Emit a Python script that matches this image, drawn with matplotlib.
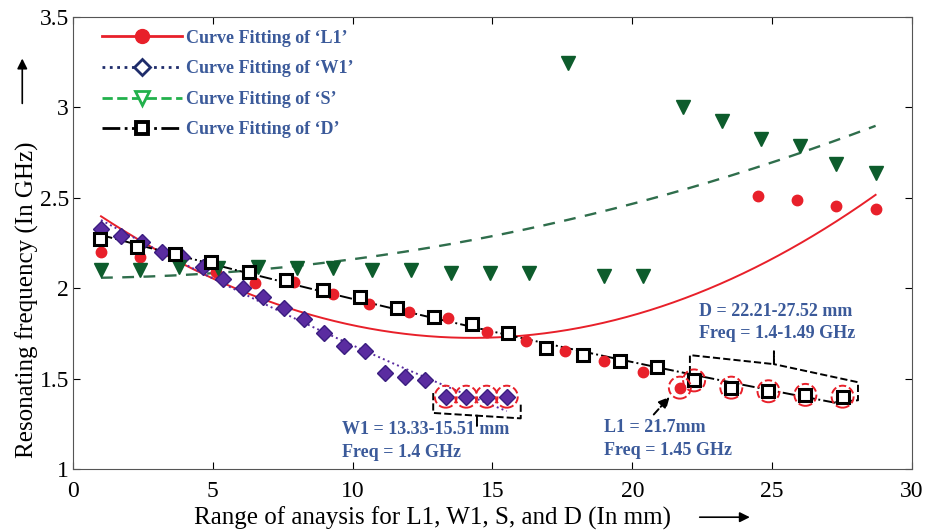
import numpy as np
import matplotlib
matplotlib.use('Agg')
import matplotlib.pyplot as plt
from matplotlib.lines import Line2D
from matplotlib.patches import FancyArrowPatch

plt.rcParams['font.family'] = ['Liberation Serif', 'DejaVu Serif']

# L1 sweep (mm) and resonating frequency (GHz)
l1_x = [1.0, 2.4, 5.1, 6.5, 7.9, 9.3, 10.6, 12.0, 13.4, 14.8, 16.2, 17.6, 19.0, 20.4, 21.7,
        24.5, 25.9, 27.3, 28.7]
l1_f = [2.20, 2.17, 2.09, 2.03, 2.035, 1.97, 1.91, 1.87, 1.835, 1.76, 1.71, 1.65, 1.60, 1.535, 1.45,
        2.51, 2.49, 2.455, 2.44]

# W1 sweep
w1_x = [1.0, 1.73, 2.45, 3.18, 3.9, 4.63, 5.35, 6.08, 6.8, 7.53, 8.26, 8.98, 9.7, 10.43,
        11.15, 11.88, 12.6, 13.33, 14.06, 14.79, 15.51]
w1_f = [2.33, 2.29, 2.255, 2.20, 2.17, 2.12, 2.05, 2.00, 1.95, 1.89, 1.83, 1.75, 1.68, 1.65,
        1.53, 1.51, 1.49, 1.40, 1.40, 1.40, 1.40]

# S sweep
s_x = [1.0, 2.4, 3.8, 5.2, 6.6, 8.0, 9.3, 10.7, 12.1, 13.5, 14.9, 16.3, 17.7, 19.0, 20.4,
       21.8, 23.2, 24.6, 26.0, 27.3, 28.7]
s_f = [2.10, 2.10, 2.12, 2.11, 2.12, 2.11, 2.11, 2.10, 2.10, 2.085, 2.085, 2.085, 3.245, 2.07, 2.07,
       3.00, 2.925, 2.825, 2.785, 2.69, 2.64]

# D sweep
d_x = [0.97, 2.30, 3.63, 4.95, 6.28, 7.61, 8.94, 10.26, 11.59, 12.92, 14.25, 15.57, 16.9, 18.23,
       19.56, 20.88, 22.21, 23.54, 24.87, 26.19, 27.52]
d_f = [2.27, 2.23, 2.19, 2.145, 2.09, 2.045, 1.99, 1.95, 1.89, 1.84, 1.80, 1.75, 1.67, 1.63,
       1.60, 1.565, 1.49, 1.45, 1.43, 1.41, 1.40]

labels = ["Curve Fitting of \u2018L1\u2019", "Curve Fitting of \u2018W1\u2019",
          "Curve Fitting of \u2018S\u2019", "Curve Fitting of \u2018D\u2019"]

note_col = '#3b5a9a'
red = '#e8202a'
navy = '#1f2d6b'
purple = '#5a2ca0'
dgreen = '#0d5c2c'
lgreen = '#2f6e4c'

fig = plt.figure(figsize=(9.28, 5.31), dpi=100)
ax = fig.add_axes([0.0787, 0.1168, 0.904, 0.851])


def fit_line(x, y, deg):
    c = np.polyfit(x, y, deg)
    xx = np.linspace(min(x), max(x), 200)
    return xx, np.polyval(c, xx)


# fitted curves
xx, yy = fit_line(l1_x, l1_f, 2)
ax.plot(xx, yy, '-', color=red, lw=1.4, zorder=2)
xx, yy = fit_line(w1_x, w1_f, 2)
ax.plot(xx, yy, ':', color=purple, lw=1.4, zorder=2)
xx, yy = fit_line(s_x, s_f, 2)
ax.plot(xx, yy, '--', color=lgreen, lw=1.7, dashes=(5, 4), zorder=2)
xx, yy = fit_line(d_x, d_f, 2)
ax.plot(xx, yy, '-.', color='black', lw=1.4, zorder=2)

# data points
ax.plot(l1_x, l1_f, 'o', color=red, ms=7.5, mec=red, zorder=4)
ax.plot(w1_x, w1_f, 'D', color=purple, ms=8, mec='#3a1d80', mew=1.0, zorder=4)
ax.plot(s_x, s_f, 'v', color=dgreen, ms=10, mec=dgreen, zorder=4)
ax.plot(d_x, d_f, 's', mfc='white', mec='black', ms=9, mew=2.2, zorder=5)

# highlighted points
hl = [(w1_x[-4:], w1_f[-4:]), ([l1_x[14]], [l1_f[14]]), (d_x[-5:], d_f[-5:])]
for hx, hy in hl:
    ax.scatter(hx, hy, s=250, facecolors='none', edgecolors=red, linestyles='--',
               linewidths=1.4, zorder=6)

# brackets around the highlighted groups
wx0, wx1 = w1_x[-4] - 0.45, w1_x[-1] + 0.5
wm = (wx0 + wx1) / 2
ax.plot([wx0, wx0, wm, wm, wm, wx1, wx1], [1.42, 1.31, 1.295, 1.24, 1.295, 1.28, 1.37],
        '--', color='black', lw=1.4, zorder=3)
dx0, dx1 = d_x[-5] - 0.15, d_x[-1] + 0.55
dm = (dx0 + dx1) / 2
ax.plot([dx0, dx0, dm, dm, dm, dx1, dx1, d_x[-1] - 0.3],
        [1.53, 1.63, 1.58, 1.65, 1.58, 1.48, 1.38, 1.37],
        '--', color='black', lw=1.4, zorder=3)

# annotations
tkw = dict(color=note_col, fontsize=13, fontweight='bold', va='center', ha='left')
ax.text(9.62, 1.216, 'W1 = 13.33-15.51 mm', **tkw)
ax.text(9.62, 1.09, 'Freq = 1.4 GHz', **tkw)
ax.text(19.0, 1.23, 'L1 = 21.7mm', **tkw)
ax.text(19.0, 1.10, 'Freq = 1.45 GHz', **tkw)
ax.text(22.4, 1.87, 'D = 22.21-27.52 mm', **tkw)
ax.text(22.4, 1.75, 'Freq = 1.4-1.49 GHz', **tkw)
ax.annotate('', xy=(l1_x[14] - 0.3, l1_f[14] - 0.04), xytext=(20.7, 1.29),
            arrowprops=dict(arrowstyle='-|>', color='black', lw=1.4, ls='--',
                            mutation_scale=16))

ax.set_xlim(0, 30)
ax.set_ylim(1, 3.5)
ax.set_xticks([0, 5, 10, 15, 20, 25, 30])
ax.set_yticks([1, 1.5, 2, 2.5, 3, 3.5])
ax.set_yticklabels(['1', '1.5', '2', '2.5', '3', '3.5'])
ax.tick_params(direction='in', top=True, right=True, labelsize=17, length=5)
ax.tick_params(axis='x', pad=9)
ax.tick_params(axis='y', pad=3)
for sp in ax.spines.values():
    sp.set_color('#555555')

ax.set_xlabel('Range of anaysis for L1, W1, S, and D (In mm)', fontsize=18)
ax.xaxis.set_label_coords(0.428, -0.084)
ax.set_ylabel('Resonating frequency (In GHz)', fontsize=18)
ax.yaxis.set_label_coords(-0.04, 0.374)
fig.add_artist(FancyArrowPatch((0.751, 0.026), (0.811, 0.026), transform=fig.transFigure,
                               arrowstyle='-|>', mutation_scale=15, lw=1.2, color='black'))
fig.add_artist(FancyArrowPatch((0.024, 0.80), (0.024, 0.895), transform=fig.transFigure,
                               arrowstyle='-|>', mutation_scale=15, lw=1.2, color='black'))

handles = [
    Line2D([], [], color=red, ls='-', lw=2, marker='o', ms=10, mfc=red, mec=red),
    Line2D([], [], color=navy, ls=':', lw=2, marker='D', ms=8, mfc='white', mec=navy, mew=2),
    Line2D([], [], color='#22b14c', ls='--', lw=2, marker='v', ms=10, mfc='white', mec='#22b14c', mew=2),
    Line2D([], [], color='black', ls='-.', lw=2, marker='s', ms=8, mfc='white', mec='black', mew=2.8),
]
leg = ax.legend(handles, labels, loc='upper left', bbox_to_anchor=(0.0346, 0.972), frameon=False,
                borderaxespad=0, borderpad=0,
                handlelength=4.4, handletextpad=0.25, labelspacing=0.75,
                prop=dict(family='Liberation Serif', weight='bold', size=13))
for t in leg.get_texts():
    t.set_color(note_col)

fig.savefig('out.png', dpi=100)
